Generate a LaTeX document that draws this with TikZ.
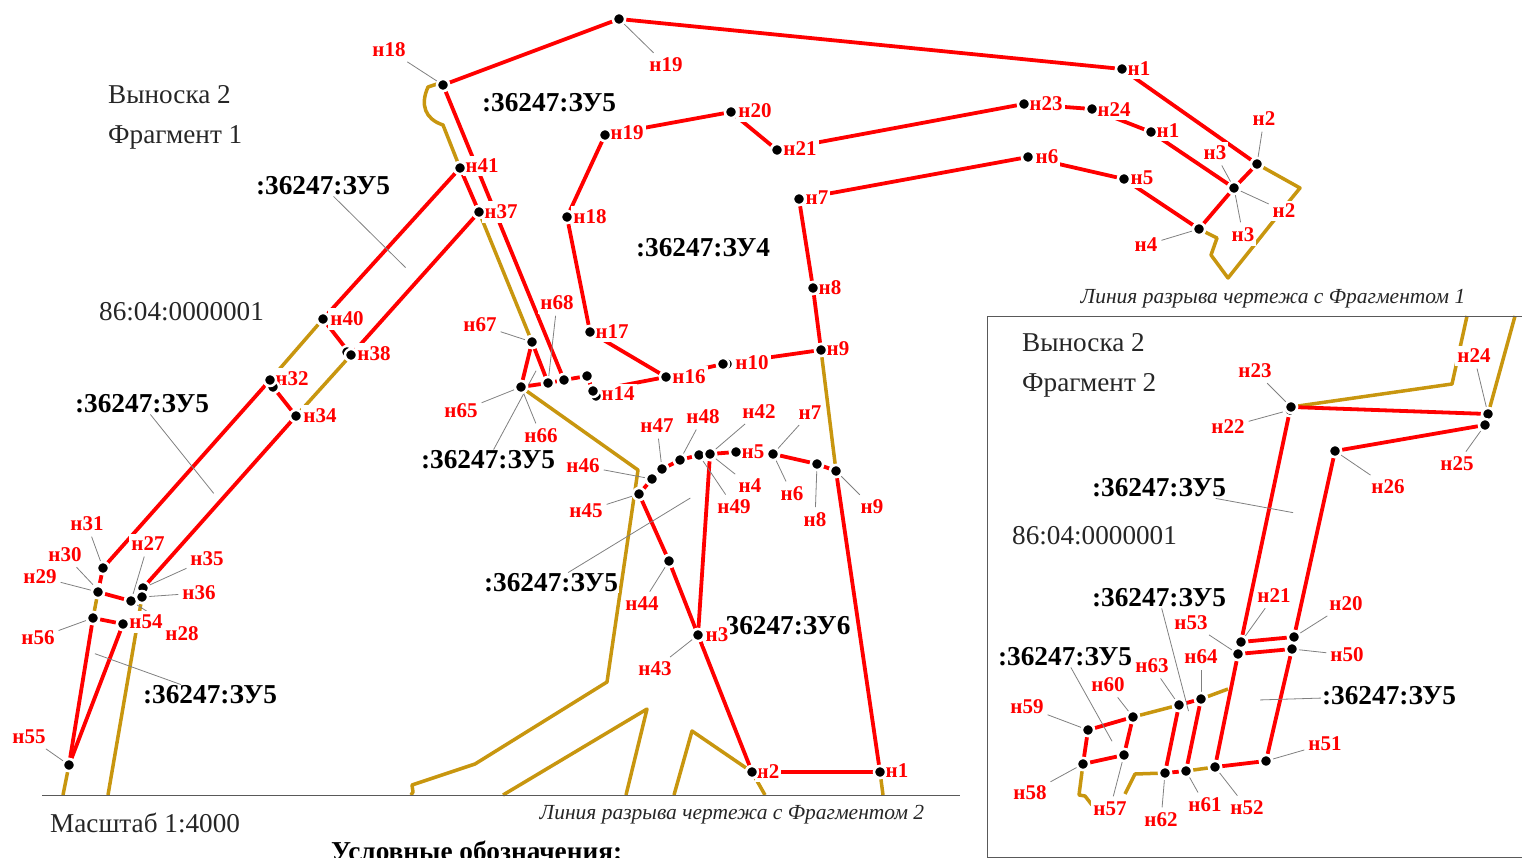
\documentclass[tikz,border=0pt]{standalone}
\usepackage{fontspec}
\setmainfont{Liberation Serif}
\pgfdeclarelayer{lines}
\pgfsetlayers{lines,main}
\definecolor{goldl}{HTML}{C8960F}
\definecolor{gleader}{HTML}{808080}
\tikzset{
  redl/.style={draw=red,line width=3.8pt,line join=round},
  goldp/.style={draw=goldl,line width=3.5pt,line join=round},
  leader/.style={draw=gleader,line width=.8pt,shorten >=2pt},
  frameln/.style={draw=black!65,line width=.9pt},
  dotn/.style={circle,fill=black,draw=white,line width=2.5pt,minimum size=12pt,inner sep=0pt},
  lab/.style={text=red,fill=white,inner xsep=2pt,inner ysep=3.5pt,yshift=-1pt,font=\bfseries\fontsize{21}{22}\selectfont},
  blk/.style={text=black,fill=white,inner sep=1pt,yshift=-1pt,font=\bfseries\fontsize{27.3}{28}\selectfont},
  plain/.style={text=black!85,anchor=west,inner sep=0pt,font=\fontsize{27.2}{28}\selectfont},
  note/.style={text=black!85,inner sep=0pt,font=\itshape\fontsize{21.5}{22}\selectfont},
}
\newcommand\dn[3]{\node[dotn] (#1) at (#2,#3) {};}
\newcommand\lb[4]{\node[lab] (#1) at (#2,#3) {#4};}
\newcommand\bl[4]{\node[blk] (#1) at (#2,#3) {#4};}
\begin{document}
\begin{tikzpicture}[x=1pt,y=-1pt]
\clip (0,0) rectangle (1522,858);
% plain texts
\node[plain] (t1) at (108,95) {Выноска 2};
\node[plain] (t2) at (108,137) {Фрагмент 1};
\node[plain] (t3) at (99,312) {86:04:0000001};
\node[plain] (t4) at (50,823) {Масштаб 1:4000};
\node[plain,font=\bfseries\fontsize{27.3}{28}\selectfont,text=black] (t5) at (331,851) {Условные обозначения:};
\node[plain] (t6) at (1022,343) {Выноска 2};
\node[plain] (t7) at (1022,385) {Фрагмент 2};
\node[plain] (t8) at (1012,536) {86:04:0000001};
\node[note] (t9) at (1273,299) {Линия разрыва чертежа с Фрагментом 1};
\node[note] (t10) at (732,815) {Линия разрыва чертежа с Фрагментом 2};
% parcel labels
\bl{b1}{549}{102}{:36247:ЗУ5}
\bl{b2}{323}{185}{:36247:ЗУ5}
\bl{b3}{142}{403}{:36247:ЗУ5}
\bl{b4}{488}{459}{:36247:ЗУ5}
\bl{b5}{551}{582}{:36247:ЗУ5}
\bl{b6}{788}{625}{36247:ЗУ6}
\bl{b7}{210}{694}{:36247:ЗУ5}
\bl{b8}{703}{247}{:36247:ЗУ4}
\bl{b9}{1159}{487}{:36247:ЗУ5}
\bl{b10}{1159}{597}{:36247:ЗУ5}
\bl{b11}{1065}{656}{:36247:ЗУ5}
\bl{b12}{1389}{695}{:36247:ЗУ5}
% point labels, main drawing
\lb{l18}{389}{49}{н18}\lb{l19a}{666}{64}{н19}\lb{l1a}{1139}{68}{н1}
\lb{l41}{482}{165}{н41}\lb{l37}{501}{211}{н37}\lb{l40}{347}{318}{н40}
\lb{l38}{374}{353}{н38}\lb{l32}{292}{378}{н32}\lb{l34}{320}{415}{н34}
\lb{l31}{87}{523}{н31}\lb{l30}{65}{554}{н30}\lb{l29}{40}{576}{н29}
\lb{l27}{148}{543}{н27}\lb{l35}{207}{558}{н35}\lb{l36}{199}{592}{н36}
\lb{l28}{182}{633}{н28}\lb{l54}{146}{621}{н54}\lb{l56}{38}{637}{н56}
\lb{l55}{29}{736}{н55}
\lb{l20}{755}{110}{н20}\lb{l19b}{627}{132}{н19}\lb{l18b}{590}{216}{н18}
\lb{l17}{612}{331}{н17}\lb{l16}{689}{376}{н16}\lb{l10}{752}{362}{н10}
\lb{l9a}{838}{348}{н9}\lb{l8a}{830}{287}{н8}\lb{l7a}{817}{197}{н7}
\lb{l21}{800}{148}{н21}\lb{l23}{1046}{103}{н23}\lb{l24}{1114}{109}{н24}
\lb{l1b}{1168}{130}{н1}\lb{l6a}{1047}{156}{н6}\lb{l5a}{1142}{177}{н5}
\lb{l4a}{1146}{244}{н4}\lb{l3a}{1215}{152}{н3}\lb{l3b}{1243}{234}{н3}
\lb{l2a}{1264}{118}{н2}\lb{l2b}{1284}{210}{н2}
\lb{l14}{618}{393}{н14}\lb{l67}{480}{324}{н67}\lb{l68}{557}{302}{н68}
\lb{l65}{461}{410}{н65}\lb{l66}{541}{435}{н66}
\lb{l47}{657}{425}{н47}\lb{l48}{703}{416}{н48}\lb{l42}{759}{411}{н42}
\lb{l7b}{810}{412}{н7}\lb{l46}{583}{465}{н46}\lb{l45}{586}{510}{н45}
\lb{l5b}{753}{451}{н5}\lb{l4b}{750}{485}{н4}\lb{l6b}{792}{493}{н6}
\lb{l49}{734}{506}{н49}\lb{l8b}{815}{519}{н8}\lb{l9b}{872}{506}{н9}
\lb{l44}{642}{603}{н44}\lb{l3c}{717}{634}{н3}\lb{l43}{655}{668}{н43}
\lb{l2c}{768}{771}{н2}\lb{l1c}{897}{770}{н1}
% point labels, box
\lb{m23}{1255}{370}{н23}\lb{m22}{1228}{426}{н22}\lb{m24}{1474}{355}{н24}
\lb{m25}{1457}{463}{н25}\lb{m26}{1388}{486}{н26}\lb{m21}{1274}{595}{н21}
\lb{m20}{1346}{603}{н20}\lb{m53}{1191}{622}{н53}\lb{m50}{1347}{654}{н50}
\lb{m63}{1152}{665}{н63}\lb{m64}{1201}{656}{н64}\lb{m60}{1108}{684}{н60}
\lb{m59}{1027}{706}{н59}\lb{m58}{1030}{792}{н58}\lb{m57}{1110}{808}{н57}
\lb{m62}{1161}{819}{н62}\lb{m61}{1205}{804}{н61}\lb{m52}{1247}{807}{н52}
\lb{m51}{1325}{743}{н51}
% points, main drawing
\dn{d18}{443}{85}\dn{d19a}{619}{19}\dn{d1a}{1122}{69}\dn{d2a}{1257}{164}
\dn{d3a}{1234}{188}\dn{d4a}{1199}{229}\dn{d5a}{1124}{179}\dn{d6a}{1028}{157}
\dn{d7a}{799}{199}\dn{d8a}{813}{288}\dn{d9a}{821}{350}\dn{d10b}{727}{364}\dn{d10}{723}{364}
\dn{d16}{666}{377}\dn{d17}{590}{332}\dn{d18b}{567}{217}\dn{d19b}{605}{135}
\dn{d20}{731}{112}\dn{d21}{777}{150}\dn{d23}{1024}{104}\dn{d24}{1092}{109}
\dn{d1b}{1151}{132}\dn{d14b}{596}{396}\dn{d14}{593}{391}\dn{dx2}{587}{376}
\dn{dx1}{564}{380}\dn{d66}{548}{383}\dn{d65}{521}{387}\dn{d67}{532}{342}
\dn{d41}{460}{168}\dn{d37}{479}{212}\dn{d40}{323}{319}\dn{d38b}{347}{352}
\dn{d38}{351}{355}\dn{d32b}{273}{387}\dn{d32}{270}{380}\dn{d34}{296}{416}
\dn{d31}{103}{568}\dn{d30}{98}{590}\dn{d29}{98}{592}\dn{d27}{131}{601}
\dn{d35}{143}{588}\dn{d36}{142}{597}\dn{d56}{93}{618}\dn{d54}{123}{624}
\dn{d55}{69}{765}
\dn{d9c}{836}{471}\dn{d8c}{817}{464}\dn{d7c}{773}{454}\dn{d5c}{736}{452}
\dn{d49}{699}{455}\dn{d42}{710}{454}\dn{d48}{680}{460}\dn{d47}{662}{469}
\dn{d46}{652}{479}\dn{d45}{639}{494}\dn{d44}{669}{561}\dn{d3c}{698}{635}
\dn{d2c}{752}{772}\dn{d1c}{880}{772}
% points, box
\dn{r22}{1290}{410}\dn{r23}{1291}{407}\dn{r24}{1488}{414}\dn{r25}{1485}{425}
\dn{r26}{1335}{451}\dn{r21}{1241}{642}\dn{r20}{1294}{637}\dn{r53}{1238}{654}
\dn{r50}{1292}{649}\dn{r52}{1215}{767}\dn{r51}{1266}{761}\dn{r61}{1186}{771}
\dn{r62}{1165}{773}\dn{r63}{1179}{705}\dn{r64}{1201}{699}\dn{r60}{1133}{717}
\dn{r59}{1088}{730}\dn{r58}{1083}{764}\dn{r57}{1124}{755}
% free ends
\coordinate (e1) at (407,269);\coordinate (e2) at (215,495);\coordinate (e3) at (537,369);
\coordinate (e4) at (692,497);\coordinate (e5) at (93,653);\coordinate (e6) at (1295,513);
\coordinate (e7) at (1189,713);\coordinate (e8) at (1113,743);\coordinate (e9) at (1258,700);
\coordinate (g1) at (411,795);\coordinate (g2) at (503,795);\coordinate (g3) at (626,795);
\coordinate (g4) at (674,795);\coordinate (g5) at (765,795);\coordinate (g6) at (883,795);
\coordinate (g7) at (63,795);\coordinate (g8) at (108,795);\coordinate (g9) at (1467,316);
\coordinate (g10) at (1515,316);\coordinate (g11) at (1228,689);\coordinate (g12) at (1125,794);
\coordinate (g13) at (1092,805);
\coordinate (f1) at (42,795);\coordinate (f2) at (960,795);
\coordinate (f3) at (987,316);\coordinate (f4) at (1526,857);
\begin{pgfonlayer}{lines}
 % boundary (gold)
 \draw[goldp] (d2a) -- (1300,188) -- (1291,199) -- (1228,278) -- (1211,255) -- (1217,238) -- (d4a);
 \draw[goldp] (d18) -- (437,84) -- (428,87) .. controls (420,105) and (425,119) .. (443,125) -- (d41);
 \foreach \a/\b in {d37/d67,d40/d32,d38/d34,d29/d56,d55/g7,d36/g8,d9a/d9c,d1c/g6,r63/r60,r64/g11,r52/r61,r24/g10}
   \draw[goldp] (\a) -- (\b);
 \draw[goldp] (d65) -- (638,470) -- (607,682) -- (475,764) -- (412,785) -- (413,792) -- (g1);
 \draw[goldp] (g2) -- (647,709) -- (g3);
 \draw[goldp] (g4) -- (692,731) -- (d2c) -- (g5);
 \draw[goldp] (r23) -- (1452,384) -- (g9);
 \draw[goldp] (r62) -- (1135,774) -- (g12);
 \draw[goldp] (r58) -- (1079,795) -- (1085,796) -- (g13);
 % new boundary (red)
 \foreach \a/\b in {d18/d19a,d19a/d1a,d1a/d2a,d2a/d3a,d3a/d4a,d4a/d5a,d5a/d6a,d6a/d7a,d7a/d8a,d8a/d9a,d9a/d10,d10/d16,d16/d17,d17/d18b,d18b/d19b,d19b/d20,d20/d21,d21/d23,d23/d24,d24/d1b,d1b/d3a,d16/d14,d14/dx2,dx2/dx1,dx1/d66,d66/d65,d65/d67,d67/d66,d18/dx1,d41/d37,d41/d40,d37/d38,d40/d38,d32b/d34,d32/d31,d34/d35,d31/d29,d29/d27,d56/d54,d56/d55,d54/d55,d9c/d8c,d8c/d7c,d7c/d5c,d5c/d42,d42/d49,d49/d48,d48/d47,d47/d46,d46/d45,d45/d44,d44/d3c,d3c/d2c,d2c/d1c,d1c/d9c,d42/d3c,r22/r21,r21/r53,r53/r52,r52/r51,r23/r24,r25/r26,r26/r20,r20/r50,r50/r51,r21/r20,r53/r50,r61/r62,r62/r63,r61/r64,r63/r64,r60/r59,r59/r58,r58/r57,r57/r60}
   \draw[redl] (\a) -- (\b);
 % leaders
 \foreach \a/\b in {d18/l18,d19a/l19a,d31/l31,d30/l30,d29/l29,d27/l27,d35/l35,d36/l36,d27/l28,d56/l56,d55/l55,d4a/l4a,d3a/l3a,d3a/l3b,d2a/l2a,d3a/l2b,d67/l67,d66/l68,d65/l65,d65/l66,d48/l48,d47/l47,d46/l46,d45/l45,d42/l42,d7c/l7b,d42/l4b,d7c/l6b,d49/l49,d8c/l8b,d9c/l9b,d44/l44,d3c/l43,r23/m23,r22/m22,r24/m24,r25/m25,r26/m26,r21/m21,r20/m20,r53/m53,r50/m50,r63/m63,r64/m64,r60/m60,r59/m59,r58/m58,r57/m57,r62/m62,r61/m61,r52/m52,r51/m51,b2/e1,b3/e2,b4/e3,b5/e4,b7/e5,b9/e6,b10/e7,b11/e8,b12/e9}
   \draw[leader] (\a) -- (\b);
 % frame
 \draw[frameln] (f1) -- (f2);
 \draw[frameln] (f3) rectangle (f4);
\end{pgfonlayer}
\end{tikzpicture}
\end{document}
